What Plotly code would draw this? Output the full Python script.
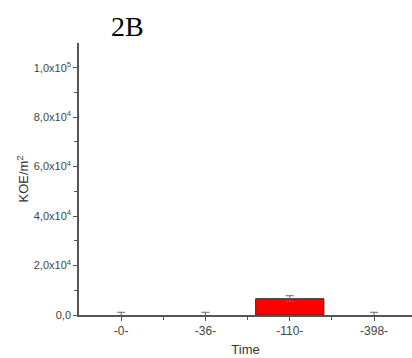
import plotly.graph_objects as go

categories = ["-0-", "-36-", "-110-", "-398-"]
values = [0, 0, 6600, 0]
errors = [1100, 1100, 1200, 1100]
ytick_vals = [0, 20000, 40000, 60000, 80000, 100000]
ytick_text = ["0,0", "2,0x10<sup>4</sup>", "4,0x10<sup>4</sup>", "6,0x10<sup>4</sup>",
              "8,0x10<sup>4</sup>", "1,0x10<sup>5</sup>"]

axis_color = "#555555"
text_color = "#444444"

fig = go.Figure()
fig.add_trace(go.Bar(
    x=list(range(len(categories))), y=values,
    width=0.81,
    marker=dict(color="#ff0000",
                line=dict(color="#333333", width=[1 if v > 0 else 0 for v in values])),
    error_y=dict(type="data", array=errors, visible=True, color="#666666",
                 thickness=1, width=4),
))

fig.update_layout(
    width=412, height=358,
    margin=dict(l=79, r=0, t=43, b=43),
    paper_bgcolor="white", plot_bgcolor="white",
    showlegend=False,
    font=dict(family="Liberation Sans, Arial", color=text_color, size=11),
    annotations=[dict(text="2B", xref="paper", yref="paper",
                      x=(127 - 79) / 333, y=(315 - 26) / 272,
                      xanchor="center", yanchor="middle", showarrow=False,
                      font=dict(family="Liberation Serif, Times New Roman", size=28, color="black"))],
    xaxis=dict(
        range=[-0.5, 3.45], automargin=False,
        tickvals=list(range(len(categories))), ticktext=categories,
        showline=True, linecolor=axis_color, linewidth=1.5,
        ticks="outside", ticklen=4, tickcolor=axis_color,
        minor=dict(tickvals=[0.5, 1.5, 2.5], ticks="outside", ticklen=3, tickcolor=axis_color),
        showgrid=False, zeroline=False,
        tickfont=dict(size=12),
        title=dict(text="Time", font=dict(size=13, color="#333333"), standoff=8),
    ),
    yaxis=dict(
        range=[0, 110000], automargin=False,
        tickvals=ytick_vals, ticktext=ytick_text,
        showline=True, linecolor=axis_color, linewidth=1.5,
        ticks="outside", ticklen=4, tickcolor=axis_color,
        minor=dict(tickvals=[10000, 30000, 50000, 70000, 90000], ticks="outside",
                   ticklen=3, tickcolor=axis_color),
        showgrid=False, zeroline=False,
        tickfont=dict(size=11),
        title=dict(text="KOE/m<sup>2</sup>", font=dict(size=13, color="#333333"), standoff=2),
    ),
)

fig.write_html("out.html", config={"displayModeBar": False},
               post_script="document.body.style.margin='0';document.body.style.overflow='hidden';")
